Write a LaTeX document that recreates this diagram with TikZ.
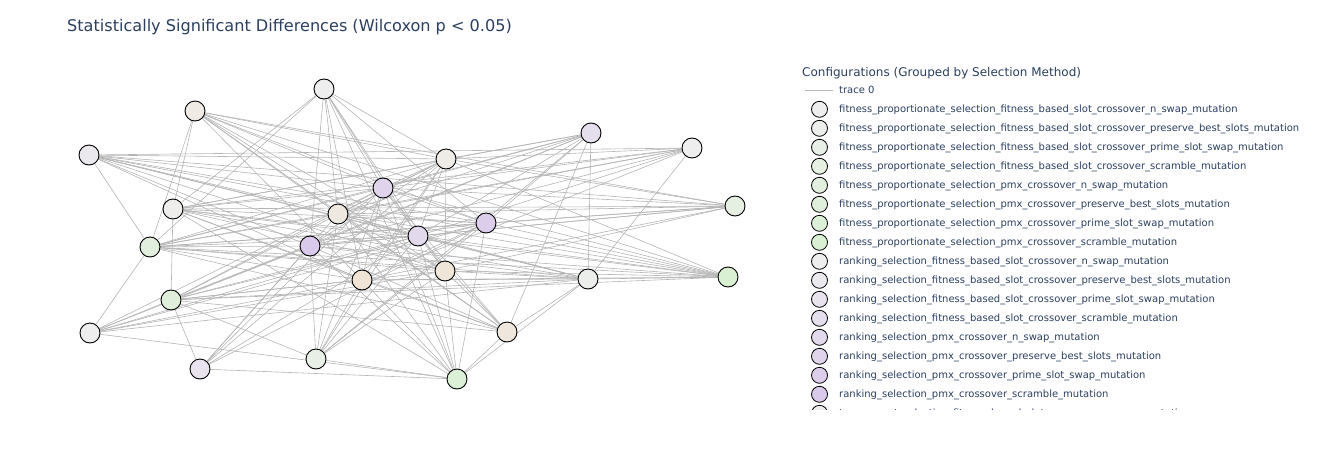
\documentclass[tikz,border=0pt]{standalone}
\usepackage{fontspec}
\setmainfont{DejaVu Sans}
\usetikzlibrary{arrows,backgrounds}

\definecolor{titlecol}{HTML}{2A3F5F}
\definecolor{base}{HTML}{EEEEEE}
\definecolor{endfp}{HTML}{D9F0D3}
\definecolor{endrk}{HTML}{D9C9EA}
\definecolor{endtn}{HTML}{F0E4D6}
\definecolor{edgecol}{HTML}{B4B4B4}

\begin{document}
\begin{tikzpicture}[x=1pt,y=-1pt,
  cfg/.style={circle,draw=black,line width=0.9pt,minimum size=20pt,inner sep=0pt},
  fp/.style={cfg,fill=endfp!#1!base},
  rk/.style={cfg,fill=endrk!#1!base},
  tn/.style={cfg,fill=endtn!#1!base},
  edge/.style={draw=edgecol,line width=0.6pt},
  key/.style={circle,draw=black,line width=0.8pt,minimum size=16pt,inner sep=0pt},
  keytext/.style={anchor=base west,inner sep=0pt,text=titlecol,font=\fontsize{10}{12}\selectfont}]

  \useasboundingbox (0,0) rectangle (1328,450);

  \node[anchor=base west,inner sep=0pt,text=titlecol,font=\fontsize{16.1}{19}\selectfont]
    at (67,31) (title) {Statistically Significant Differences (Wilcoxon p < 0.05)};

  % fitness proportionate selection
  \node[fp=0] at (692,148) (fp1) {};
  \node[fp=14] at (588,279) (fp2) {};
  \node[fp=29] at (316,359) (fp3) {};
  \node[fp=43] at (735,206) (fp4) {};
  \node[fp=57] at (150,247) (fp5) {};
  \node[fp=71] at (171,300) (fp6) {};
  \node[fp=86] at (457,379) (fp7) {};
  \node[fp=100] at (728,277) (fp8) {};

  % ranking selection
  \node[rk=0] at (90,333) (rk1) {};
  \node[rk=14] at (89,155) (rk2) {};
  \node[rk=29] at (200,369) (rk3) {};
  \node[rk=43] at (591,133) (rk4) {};
  \node[rk=57] at (418,236) (rk5) {};
  \node[rk=71] at (383,188) (rk6) {};
  \node[rk=86] at (486,223) (rk7) {};
  \node[rk=100] at (310,246) (rk8) {};

  % tournament selection
  \node[tn=0] at (324,89) (tn1) {};
  \node[tn=14] at (173,209) (tn2) {};
  \node[tn=29] at (446,159) (tn3) {};
  \node[tn=43] at (195,111) (tn4) {};
  \node[tn=57] at (338,214) (tn5) {};
  \node[tn=71] at (507,332) (tn6) {};
  \node[tn=86] at (445,271) (tn7) {};
  \node[tn=100] at (362,280) (tn8) {};

  % significant pairs
  \begin{pgfonlayer}{background}
  \foreach \t in {fp5,fp1,fp4,tn5,rk6,rk5,rk7,tn7,tn8,fp2,fp8,rk8,tn3}
    \draw[edge] (rk2) -- (\t);
  \foreach \t in {tn2,fp5,tn3,rk6,rk5,rk7,tn7,tn6,fp4,fp8,tn8,tn5}
    \draw[edge] (tn4) -- (\t);
  \foreach \t in {fp5,rk8,tn5,tn8,rk6,rk5,tn7,tn3,rk7,fp7,tn2}
    \draw[edge] (tn1) -- (\t);
  \foreach \t in {fp6,rk6,tn3,rk4,fp1,fp4,rk7,rk5,tn7,fp2,fp8,tn8,fp7,tn6}
    \draw[edge] (tn2) -- (\t);
  \foreach \t in {rk1,rk8,tn5,rk6,tn3,rk4,fp1,rk7,fp4,fp8,fp2,tn7,tn6,tn8,rk5}
    \draw[edge] (fp5) -- (\t);
  \foreach \t in {rk1,rk3,rk8,rk5,rk7,tn3,rk6,fp2,fp8,tn7,tn8,tn6,rk4}
    \draw[edge] (fp6) -- (\t);
  \foreach \t in {rk8,tn8,rk5,tn7,fp2,rk7,fp7,rk6}
    \draw[edge] (rk1) -- (\t);
  \foreach \t in {fp7,rk8,rk6,tn3,rk5,rk7,tn5}
    \draw[edge] (rk3) -- (\t);
  \foreach \t in {fp7,rk8,tn8,tn7,rk5,rk7,tn3,rk4,tn5,rk6,fp6}
    \draw[edge] (fp3) -- (\t);
  \foreach \t in {tn7,tn8,rk5,tn6,fp2,rk7,rk8,tn5,rk6}
    \draw[edge] (fp7) -- (\t);
  \foreach \t in {fp2,rk4,tn8,tn7,rk8,rk5,rk6,tn5}
    \draw[edge] (tn6) -- (\t);
  \foreach \t in {rk4,fp1,fp8,tn7,tn8,rk8,rk5,tn5}
    \draw[edge] (fp2) -- (\t);
  \foreach \t in {tn8,tn7,rk5,tn3,rk6,tn5,rk8,rk7}
    \draw[edge] (fp8) -- (\t);
  \foreach \t in {tn3,rk6,rk5,tn5,rk8,tn7,rk7,tn8}
    \draw[edge] (fp4) -- (\t);
  \foreach \t in {tn3,rk6,tn5,rk8,rk5,tn8}
    \draw[edge] (fp1) -- (\t);
  \foreach \t in {tn3,rk6,tn5,rk8,rk5,rk7}
    \draw[edge] (rk4) -- (\t);
  \foreach \t in {rk6,tn5,rk8,rk5,tn7,tn8}
    \draw[edge] (tn3) -- (\t);
  \foreach \t in {tn8,tn7,rk8,rk7}
    \draw[edge] (rk6) -- (\t);
  \foreach \t in {rk5,tn7,rk7}
    \draw[edge] (tn5) -- (\t);
  \draw[edge] (rk5) -- (rk8);
  \draw[edge] (rk7) -- (rk8);
  \draw[edge] (rk7) -- (tn8);
  \end{pgfonlayer}

  % legend
  \node[anchor=base west,inner sep=0pt,text=titlecol,font=\fontsize{12}{14}\selectfont]
    at (802,76) (keytitle) {Configurations (Grouped by Selection Method)};
  \coordinate (tr0a) at (805,90.5);
  \coordinate (tr0b) at (833,90.5);
  \draw[edge,line width=1pt] (tr0a) -- (tr0b);
  \node[keytext] at (839,93.5) (tr0) {trace 0};
  \begin{scope}
    \clip (790,0) rectangle (1328,409.5);
    \foreach \i/\g/\pc/\lab in {
      1/fp/0/fitness\_proportionate\_selection\_fitness\_based\_slot\_crossover\_n\_swap\_mutation,
      2/fp/14/fitness\_proportionate\_selection\_fitness\_based\_slot\_crossover\_preserve\_best\_slots\_mutation,
      3/fp/29/fitness\_proportionate\_selection\_fitness\_based\_slot\_crossover\_prime\_slot\_swap\_mutation,
      4/fp/43/fitness\_proportionate\_selection\_fitness\_based\_slot\_crossover\_scramble\_mutation,
      5/fp/57/fitness\_proportionate\_selection\_pmx\_crossover\_n\_swap\_mutation,
      6/fp/71/fitness\_proportionate\_selection\_pmx\_crossover\_preserve\_best\_slots\_mutation,
      7/fp/86/fitness\_proportionate\_selection\_pmx\_crossover\_prime\_slot\_swap\_mutation,
      8/fp/100/fitness\_proportionate\_selection\_pmx\_crossover\_scramble\_mutation,
      9/rk/0/ranking\_selection\_fitness\_based\_slot\_crossover\_n\_swap\_mutation,
      10/rk/14/ranking\_selection\_fitness\_based\_slot\_crossover\_preserve\_best\_slots\_mutation,
      11/rk/29/ranking\_selection\_fitness\_based\_slot\_crossover\_prime\_slot\_swap\_mutation,
      12/rk/43/ranking\_selection\_fitness\_based\_slot\_crossover\_scramble\_mutation,
      13/rk/57/ranking\_selection\_pmx\_crossover\_n\_swap\_mutation,
      14/rk/71/ranking\_selection\_pmx\_crossover\_preserve\_best\_slots\_mutation,
      15/rk/86/ranking\_selection\_pmx\_crossover\_prime\_slot\_swap\_mutation,
      16/rk/100/ranking\_selection\_pmx\_crossover\_scramble\_mutation,
      17/tn/0/tournament\_selection\_fitness\_based\_slot\_crossover\_n\_swap\_mutation}
    {
      \node[key,fill=end\g!\pc!base] at (819.5,{109.3+19*(\i-1)}) (key\i) {};
      \node[keytext] at (839,{112.5+19*(\i-1)}) (lab\i) {\lab};
    }
  \end{scope}
\end{tikzpicture}
\end{document}
